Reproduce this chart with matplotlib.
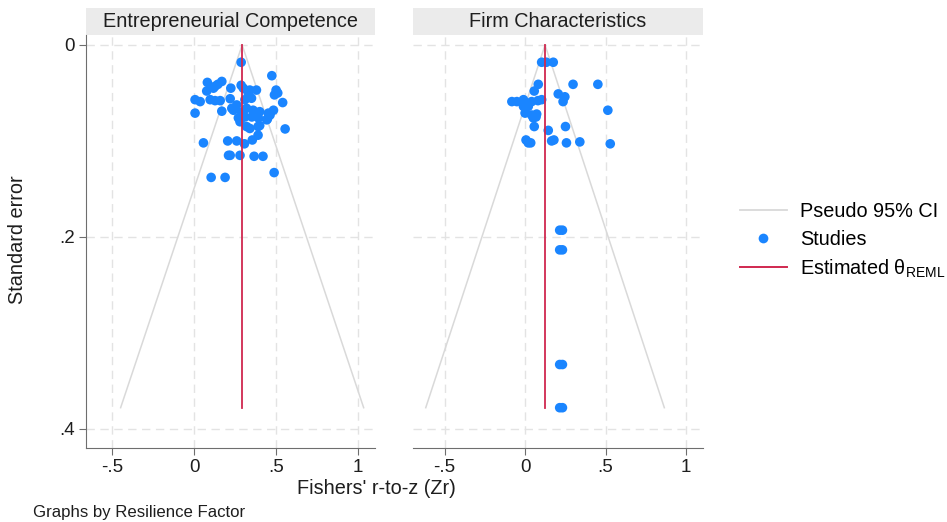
import matplotlib
matplotlib.use("Agg")
import matplotlib.pyplot as plt
from matplotlib.lines import Line2D
from matplotlib.patches import Rectangle
import numpy as np

plt.rcParams['font.family'] = ['Liberation Sans', 'DejaVu Sans']
plt.rcParams['mathtext.fontset'] = 'custom'
plt.rcParams['mathtext.rm'] = 'Liberation Sans'

panel_titles = ["Entrepreneurial Competence", "Firm Characteristics"]

# Entrepreneurial Competence: (Zr, standard error)
ec_zr = [0.287, 0.474, 0.081, 0.128, 0.118, 0.169, 0.145, 0.077, 0.224, 0.287,
         0.300, 0.340, 0.380, 0.330, 0.500, 0.490, 0.510, 0.006, 0.037, 0.098,
         0.128, 0.159, 0.220, 0.260, 0.310, 0.350, 0.540, 0.006, 0.169, 0.230,
         0.240, 0.320, 0.360, 0.400, 0.453, 0.484, 0.463, 0.447, 0.310, 0.352,
         0.392, 0.443, 0.270, 0.290, 0.280, 0.320, 0.340, 0.390, 0.390, 0.400,
         0.555, 0.057, 0.205, 0.260, 0.307, 0.355, 0.210, 0.220, 0.280, 0.366,
         0.420, 0.104, 0.189, 0.488]
ec_se = [0.018, 0.032, 0.039, 0.043, 0.045, 0.038, 0.041, 0.048, 0.045, 0.042,
         0.045, 0.047, 0.047, 0.050, 0.047, 0.052, 0.050, 0.057, 0.059, 0.057,
         0.058, 0.058, 0.056, 0.0625, 0.057, 0.0555, 0.060, 0.071, 0.069, 0.066,
         0.068, 0.066, 0.068, 0.0695, 0.071, 0.068, 0.073, 0.077, 0.075, 0.075,
         0.076, 0.078, 0.076, 0.070, 0.080, 0.085, 0.087, 0.085, 0.094, 0.084,
         0.0875, 0.102, 0.100, 0.100, 0.103, 0.099, 0.115, 0.115, 0.115, 0.116,
         0.116, 0.138, 0.138, 0.133]

# Firm Characteristics
fc_zr = [0.103, 0.132, 0.175, 0.082, 0.298, 0.452, 0.057, 0.206, 0.247, 0.236,
         -0.082, -0.051, -0.010, 0.010, 0.041, 0.103, 0.080, -0.010, 0.020, 0.514,
         0.000, 0.041, 0.072, 0.051, 0.068, 0.057, 0.251, 0.144, 0.006, 0.020,
         0.035, 0.165, 0.179, 0.257, 0.340, 0.529, 0.215, 0.232, 0.215, 0.232,
         0.215, 0.232, 0.215, 0.232]
fc_se = [0.018, 0.018, 0.018, 0.041, 0.041, 0.041, 0.048, 0.051, 0.054, 0.059,
         0.059, 0.059, 0.057, 0.061, 0.059, 0.057, 0.058, 0.064, 0.064, 0.068,
         0.071, 0.073, 0.072, 0.076, 0.075, 0.085, 0.085, 0.089, 0.099, 0.102,
         0.102, 0.100, 0.099, 0.102, 0.101, 0.103, 0.193, 0.193, 0.2135, 0.2135,
         0.333, 0.333, 0.378, 0.378]

theta_reml = [0.293, 0.124]
se_max = 0.378

x_ticks = [-0.5, 0, 0.5, 1]
x_ticklabels = ["-.5", "0", ".5", "1"]
y_ticks = [0, 0.2, 0.4]
y_ticklabels = ["0", ".2", ".4"]

BLUE = "#1a85ff"
RED = "#d0284f"
CI = "#d9d9d9"
GRID = "#e3e3e3"
AX = "#6e6e6e"
TXT = "#1e1e1e"

FS_TITLE = 14.3
FS_TICK = 13.5

fig = plt.figure(figsize=(9.47, 5.22), dpi=100)
W, H = 947, 522

def px_axes(x0, x1, ytop, ybot):
    return fig.add_axes([x0 / W, 1 - ybot / H, (x1 - x0) / W, (ybot - ytop) / H])

panels = [(ec_zr, ec_se), (fc_zr, fc_se)]
xpos = [(86, 375), (413, 703)]
xlims = [(-0.659, 1.103), (-0.696, 1.105)]
for i, ((zr, se), (x0, x1)) in enumerate(zip(panels, xpos)):
    ax = px_axes(x0, x1, 35, 448)
    ax.set_xlim(*xlims[i])
    ax.set_ylim(0.42, -0.0104)
    for xt in x_ticks:
        ax.axvline(xt, color=GRID, lw=1.0, ls=(0, (6, 4)), zorder=0)
    for yt in y_ticks:
        ax.axhline(yt, color=GRID, lw=1.0, ls=(0, (6, 4)), zorder=0)
    th = theta_reml[i]
    ax.plot([th - 1.96 * se_max, th], [se_max, 0], color=CI, lw=1.1, zorder=1)
    ax.plot([th + 1.96 * se_max, th], [se_max, 0], color=CI, lw=1.1, zorder=1)
    ax.scatter(zr, se, s=48, color=BLUE, edgecolors='none', zorder=3)
    ax.plot([th, th], [0, se_max], color=RED, lw=1.3, zorder=4)
    for s in ['top', 'right']:
        ax.spines[s].set_visible(False)
    ax.spines['bottom'].set_color(AX)
    ax.spines['left'].set_color(AX)
    ax.set_xticks(x_ticks)
    ax.set_xticklabels(x_ticklabels)
    ax.tick_params(axis='x', colors=AX, labelcolor=TXT, labelsize=FS_TICK,
                   length=5, direction='out', pad=3)
    if i == 0:
        ax.set_yticks(y_ticks)
        ax.set_yticklabels(y_ticklabels)
        ax.tick_params(axis='y', colors=AX, labelcolor=TXT, labelsize=FS_TICK,
                       length=5, direction='out', pad=3)
    else:
        ax.spines['left'].set_visible(False)
        ax.set_yticks([])
    # strip
    ax.add_patch(Rectangle((0, 1.0), 1, 27 / 413, transform=ax.transAxes,
                           facecolor="#ebebeb", edgecolor='none', clip_on=False))
    ax.text(0.5, 1.0 + 13.5 / 413, panel_titles[i], transform=ax.transAxes,
            ha='center', va='center', fontsize=FS_TITLE, color=TXT)

fig.text(18 / W, 1 - 240 / H, "Standard error", rotation=90, ha='center',
         va='center', fontsize=FS_TITLE, color=TXT)
fig.text(376 / W, 1 - 489 / H, "Fishers' r-to-z (Zr)", ha='center', va='center',
         fontsize=FS_TITLE, color=TXT)
fig.text(33 / W, 1 - 512 / H, "Graphs by Resilience Factor", ha='left',
         va='center', fontsize=12.1, color=TXT)

handles = [Line2D([], [], color=CI, lw=1.3),
           Line2D([], [], color=BLUE, marker='o', ls='none', markersize=7,
                  markeredgewidth=0),
           Line2D([], [], color=RED, lw=1.4)]
labels = ["Pseudo 95% CI", "Studies", r"Estimated θ$_{\mathrm{REML}}$"]
fig.legend(handles, labels, loc='center left', bbox_to_anchor=(740 / W, 1 - 241 / H),
           frameon=False, fontsize=FS_TITLE, handlelength=2.36, handletextpad=0.65,
           labelspacing=0.43, borderpad=0, borderaxespad=0)

fig.savefig("out.png", dpi=100)
